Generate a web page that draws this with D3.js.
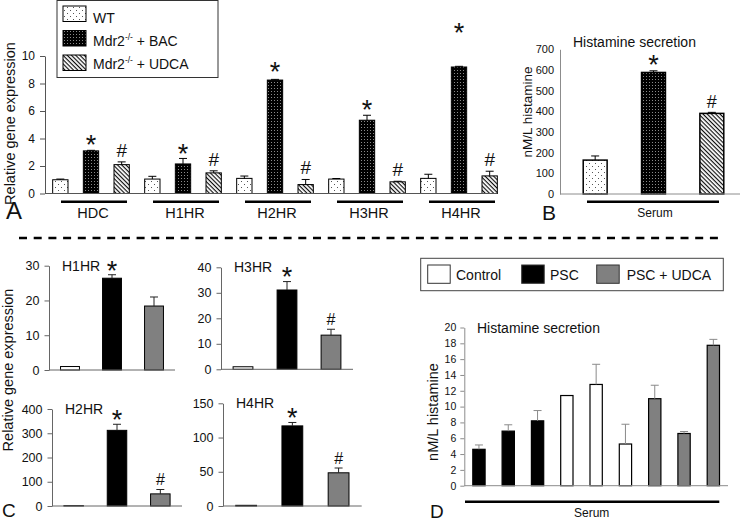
<!DOCTYPE html>
<html lang="en">
<head>
  <meta charset="UTF-8" />
  <title>Histamine receptors and secretion</title>
  <script src="https://cdn.jsdelivr.net/npm/d3@7"></script>
  <style>
    body {
      margin: 0;
      background-color: #fff;
    }

    svg {
      display: block;
      font-family: "Liberation Sans", Arial, sans-serif;
      fill: #111;
    }
  </style>
</head>
<body>
  <div id="chart"></div>

  <script>
    // Panel A - mouse gene expression
    const genesA = ["HDC", "H1HR", "H2HR", "H3HR", "H4HR"];
    const groupsA = ["WT", "BAC", "UDCA"];
    const wtA = [1.0, 1.05, 1.1, 1.05, 1.1];
    const wtErrA = [0.05, 0.2, 0.17, 0.04, 0.3];
    const bacA = [3.1, 2.15, 8.25, 5.33, 9.2];
    const bacErrA = [0.04, 0.4, 0.05, 0.36, 0.05];
    const udcaA = [2.1, 1.5, 0.65, 0.85, 1.28];
    const udcaErrA = [0.2, 0.15, 0.37, 0.04, 0.34];
    const ticksA = [0, 2, 4, 6, 8, 10];

    // Panel B - mouse serum histamine
    const groupsB = ["WT", "BAC", "UDCA"];
    const serumB = [164, 588, 390];
    const serumErrB = [20, 8, 5];
    const ticksB = [0, 100, 200, 300, 400, 500, 600, 700];

    // Panel C - human gene expression
    const genesC = ["H1HR", "H3HR", "H2HR", "H4HR"];
    const groupsC = ["Control", "PSC", "PSC + UDCA"];
    const controlC = [1.0, 1.0, 1.5, 1.0];
    const pscC = [26.4, 31.1, 312, 117];
    const pscErrC = [1.0, 3.3, 25, 5];
    const udcaC = [18.4, 13.4, 50, 48.5];
    const udcaErrC = [2.6, 2.3, 18, 7];
    const maxC = [30, 40, 400, 150];
    const stepC = [10, 10, 100, 50];
    const hashC = [false, true, true, true];

    // Panel D - human serum histamine
    const samplesD = ["1", "2", "3", "4", "5", "6", "7", "8", "9"];
    const groupD = ["PSC", "PSC", "PSC", "Control", "Control", "Control", "PSC + UDCA", "PSC + UDCA", "PSC + UDCA"];
    const serumD = [4.6, 6.9, 8.2, 11.4, 12.8, 5.27, 11.0, 6.6, 17.75];
    const serumErrD = [0.55, 0.8, 1.3, 0, 2.55, 2.5, 1.7, 0.25, 0.75];
    const ticksD = [0, 2, 4, 6, 8, 10, 12, 14, 16, 18, 20];

    const gray = "#808080";
    const starSize = 27;

    const svg = d3.select("#chart")
      .append("svg")
      .attr("width", 740)
      .attr("height", 521);

    // fill patterns
    const defs = svg.append("defs");

    const dotsWT = defs.append("pattern").attr("id", "dotsWT")
      .attr("patternUnits", "userSpaceOnUse").attr("width", 6).attr("height", 6);
    dotsWT.append("rect").attr("width", 6).attr("height", 6).attr("fill", "#fff");
    dotsWT.append("rect").attr("x", 1).attr("y", 1).attr("width", 1).attr("height", 1).attr("fill", "#555");
    dotsWT.append("rect").attr("x", 4).attr("y", 4).attr("width", 1).attr("height", 1).attr("fill", "#555");

    const dotsBAC = defs.append("pattern").attr("id", "dotsBAC")
      .attr("patternUnits", "userSpaceOnUse").attr("width", 3).attr("height", 3);
    dotsBAC.append("rect").attr("width", 3).attr("height", 3).attr("fill", "#000");
    dotsBAC.append("rect").attr("x", 1).attr("y", 1).attr("width", 1).attr("height", 1).attr("fill", "#8a8a8a");

    const hatch = defs.append("pattern").attr("id", "hatch")
      .attr("patternUnits", "userSpaceOnUse").attr("width", 3).attr("height", 3)
      .attr("patternTransform", "rotate(45)");
    hatch.append("rect").attr("width", 3).attr("height", 3).attr("fill", "#fff");
    hatch.append("line").attr("x1", 0).attr("y1", 0.6).attr("x2", 3).attr("y2", 0.6)
      .attr("stroke", "#000").attr("stroke-width", 1.1);

    const fillA = { WT: "url(#dotsWT)", BAC: "url(#dotsBAC)", UDCA: "url(#hatch)" };
    const fillC = { "Control": "#fff", "PSC": "#000", "PSC + UDCA": gray };

    function styleAxis(g, color, size) {
      g.select(".domain").attr("stroke", color);
      g.selectAll(".tick line").attr("stroke", color);
      g.selectAll(".tick text").attr("fill", "#111").style("font-size", size + "px")
        .style("font-family", '"Liberation Sans", Arial, sans-serif');
    }

    function errorBar(g, cx, yTop, yErr, color, cap) {
      if (yTop - yErr < 0.5) return;
      g.append("line").attr("x1", cx).attr("x2", cx).attr("y1", yTop).attr("y2", yErr)
        .attr("stroke", color).attr("stroke-width", 1);
      g.append("line").attr("x1", cx - cap / 2).attr("x2", cx + cap / 2).attr("y1", yErr).attr("y2", yErr)
        .attr("stroke", color).attr("stroke-width", 1);
    }

    // star drawn by its visual centre
    function star(g, cx, cy) {
      g.append("text").attr("x", cx).attr("y", cy + 0.57 * starSize).attr("text-anchor", "middle")
        .style("font-size", starSize + "px").text("*");
    }

    function hash(g, cx, baseY, size) {
      g.append("text").attr("x", cx).attr("y", baseY).attr("text-anchor", "middle")
        .style("font-size", size + "px").text("#");
    }

    // ---------------- Panel A ----------------
    const gA = svg.append("g");
    const xA = d3.scaleBand().domain(genesA).range([45, 505]);
    const subA = d3.scaleBand().domain(groupsA).range([0, xA.bandwidth()])
      .paddingInner(0.5).paddingOuter(0.25);
    const yA = d3.scaleLinear().domain([0, 10]).range([193.5, 56]);

    const rowsA = genesA.flatMap((gene, i) => [
      { gene, grp: "WT", v: wtA[i], e: wtErrA[i] },
      { gene, grp: "BAC", v: bacA[i], e: bacErrA[i] },
      { gene, grp: "UDCA", v: udcaA[i], e: udcaErrA[i] }
    ]);

    gA.selectAll("rect.bar")
      .data(rowsA)
      .enter()
      .append("rect")
      .attr("class", "bar")
      .attr("x", d => xA(d.gene) + subA(d.grp))
      .attr("y", d => yA(d.v))
      .attr("width", subA.bandwidth())
      .attr("height", d => yA(0) - yA(d.v))
      .attr("fill", d => fillA[d.grp])
      .attr("stroke", "#000")
      .attr("stroke-width", 1);

    rowsA.forEach(d => {
      const cx = xA(d.gene) + subA(d.grp) + subA.bandwidth() / 2;
      errorBar(gA, cx, yA(d.v), yA(d.v + d.e), "#000", 8);
    });

    // significance marks above BAC and UDCA bars
    const starGapA = [12, 11, 14, 12, 40];
    genesA.forEach((gene, i) => {
      const cb = xA(gene) + subA("BAC") + subA.bandwidth() / 2;
      star(gA, cb, yA(bacA[i] + bacErrA[i]) - starGapA[i]);
      const cu = xA(gene) + subA("UDCA") + subA.bandwidth() / 2;
      hash(gA, cu, yA(udcaA[i] + udcaErrA[i]) - 5, 19);
    });

    const axisA = gA.append("g")
      .attr("transform", "translate(45,0)")
      .call(d3.axisLeft(yA).tickValues(ticksA).tickSize(5).tickSizeOuter(0).tickPadding(5));
    styleAxis(axisA, "#555", 12);

    gA.append("line").attr("x1", 45).attr("x2", 497).attr("y1", yA(0)).attr("y2", yA(0))
      .attr("stroke", "#555");

    genesA.forEach(gene => {
      const c = xA(gene) + xA.bandwidth() / 2 + 3;
      gA.append("line").attr("x1", c - 33).attr("x2", c + 33).attr("y1", 201.7).attr("y2", 201.7)
        .attr("stroke", "#000").attr("stroke-width", 2.5);
      gA.append("text").attr("x", c - 1).attr("y", 218.3).attr("text-anchor", "middle")
        .style("font-size", "14.5px").text(gene);
    });

    gA.append("text")
      .attr("transform", "translate(14.5,123.5) rotate(-90)")
      .attr("text-anchor", "middle")
      .style("font-size", "14.5px")
      .text("Relative gene expression");

    gA.append("text").attr("x", 6).attr("y", 218.5).style("font-size", "24px").text("A");

    // legend A
    const legA = gA.append("g");
    legA.append("rect").attr("x", 57).attr("y", 0.5).attr("width", 161).attr("height", 77)
      .attr("fill", "#fff").attr("stroke", "#333").attr("stroke-width", 1);
    const legRowsA = [
      { grp: "WT", y: 6, base: 23.3 },
      { grp: "BAC", y: 30.5, base: 45.5 },
      { grp: "UDCA", y: 55, base: 68.5 }
    ];
    legRowsA.forEach(r => {
      legA.append("rect").attr("x", 63).attr("y", r.y).attr("width", 23).attr("height", 15.5)
        .attr("fill", fillA[r.grp]).attr("stroke", "#000");
      const t = legA.append("text").attr("x", 93).attr("y", r.base).style("font-size", "14px");
      if (r.grp === "WT") {
        t.text("WT");
      } else {
        t.append("tspan").text("Mdr2");
        t.append("tspan").attr("dy", -6).style("font-size", "8.5px").text("-/-");
        t.append("tspan").attr("dy", 6).text(" + " + r.grp);
      }
    });

    // ---------------- Panel B ----------------
    const gB = svg.append("g");
    const xB = d3.scaleBand().domain(groupsB).range([566, 741]).paddingInner(0.59).paddingOuter(0.295);
    const yB = d3.scaleLinear().domain([0, 700]).range([194, 49.3]);

    gB.selectAll("rect.bar")
      .data(groupsB)
      .enter()
      .append("rect")
      .attr("class", "bar")
      .attr("x", d => xB(d))
      .attr("y", (d, i) => yB(serumB[i]))
      .attr("width", xB.bandwidth())
      .attr("height", (d, i) => yB(0) - yB(serumB[i]))
      .attr("fill", d => fillA[d])
      .attr("stroke", "#000")
      .attr("stroke-width", 1.5);

    groupsB.forEach((d, i) => {
      const cx = xB(d) + xB.bandwidth() / 2;
      errorBar(gB, cx, yB(serumB[i]), yB(serumB[i] + serumErrB[i]), "#000", 8);
    });
    star(gB, xB("BAC") + xB.bandwidth() / 2, yB(serumB[1] + serumErrB[1]) - 12);
    hash(gB, xB("UDCA") + xB.bandwidth() / 2, yB(serumB[2] + serumErrB[2]) - 4, 18);

    const axisB = gB.append("g")
      .attr("transform", "translate(560,0)")
      .call(d3.axisLeft(yB).tickValues(ticksB).tickSize(0).tickSizeOuter(0).tickPadding(6));
    styleAxis(axisB, "#8c8c8c", 11);

    gB.append("line").attr("x1", 560).attr("x2", 740).attr("y1", yB(0)).attr("y2", yB(0))
      .attr("stroke", "#8c8c8c");

    gB.append("text").attr("x", 573).attr("y", 46.5).style("font-size", "14px").text("Histamine secretion");
    gB.append("text")
      .attr("transform", "translate(532,112) rotate(-90)")
      .attr("text-anchor", "middle")
      .style("font-size", "13.5px")
      .text("nM/L histamine");
    gB.append("line").attr("x1", 587).attr("x2", 719).attr("y1", 201.7).attr("y2", 201.7)
      .attr("stroke", "#000").attr("stroke-width", 2.5);
    gB.append("text").attr("x", 655).attr("y", 216.7).attr("text-anchor", "middle")
      .style("font-size", "12px").text("Serum");
    gB.append("text").attr("x", 542).attr("y", 220).style("font-size", "21px").text("B");

    // dashed separator
    svg.append("line").attr("x1", 19).attr("x2", 722).attr("y1", 238).attr("y2", 238)
      .attr("stroke", "#000").attr("stroke-width", 2.6).attr("stroke-dasharray", "8,6.7");

    // ---------------- Panel C ----------------
    const gC = svg.append("g");
    const framesC = [
      [49, 175, 370, 265.7],
      [221, 353, 369.3, 267.3],
      [52, 182, 506, 409],
      [223, 361.7, 506, 403.3]
    ];

    genesC.forEach((gene, i) => {
      const [x0, x1, y0, yTop] = framesC[i];
      const x = d3.scaleBand().domain(groupsC).range([x0, x1]).paddingInner(0.55).paddingOuter(0.275);
      const y = d3.scaleLinear().domain([0, maxC[i]]).range([y0, yTop]);
      const vals = [controlC[i], pscC[i], udcaC[i]];
      const errs = [0, pscErrC[i], udcaErrC[i]];
      const g = gC.append("g");

      g.selectAll("rect")
        .data(groupsC)
        .enter()
        .append("rect")
        .attr("x", d => x(d))
        .attr("y", (d, j) => y(vals[j]))
        .attr("width", x.bandwidth())
        .attr("height", (d, j) => y(0) - y(vals[j]))
        .attr("fill", d => fillC[d])
        .attr("stroke", "#000")
        .attr("stroke-width", 1);

      groupsC.forEach((d, j) => {
        errorBar(g, x(d) + x.bandwidth() / 2, y(vals[j]), y(vals[j] + errs[j]), "#222", 8);
      });

      star(g, x("PSC") + x.bandwidth() / 2, y(pscC[i] + pscErrC[i]) - 10.5);
      if (hashC[i]) hash(g, x("PSC + UDCA") + x.bandwidth() / 2, y(udcaC[i] + udcaErrC[i]) - 4.2, 16);

      const ax = g.append("g")
        .attr("transform", `translate(${x0},0)`)
        .call(d3.axisLeft(y).tickValues(d3.range(0, maxC[i] + 1, stepC[i]))
          .tickSize(4.5).tickSizeOuter(0).tickPadding(5));
      styleAxis(ax, "#666", 12.5);

      g.append("line").attr("x1", x0).attr("x2", x1).attr("y1", y0).attr("y2", y0).attr("stroke", "#666");
      g.append("text").attr("x", x0 + 13).attr("y", yTop + 5).style("font-size", "14px").text(gene);
    });

    gC.append("text")
      .attr("transform", "translate(13,370) rotate(-90)")
      .attr("text-anchor", "middle")
      .style("font-size", "14.5px")
      .text("Relative gene expression");
    gC.append("text").attr("x", 2).attr("y", 517).style("font-size", "19px").text("C");

    // ---------------- Panel D ----------------
    const gD = svg.append("g");
    const xD = d3.scaleBand().domain(samplesD).range([464.3, 728]).paddingInner(0.58).paddingOuter(0.29);
    const yD = d3.scaleLinear().domain([0, 20]).range([485.7, 327.5]);

    gD.selectAll("rect.bar")
      .data(samplesD)
      .enter()
      .append("rect")
      .attr("class", "bar")
      .attr("x", d => xD(d))
      .attr("y", (d, i) => yD(serumD[i]))
      .attr("width", xD.bandwidth())
      .attr("height", (d, i) => yD(0) - yD(serumD[i]))
      .attr("fill", (d, i) => fillC[groupD[i]])
      .attr("stroke", "#000")
      .attr("stroke-width", 1.2);

    samplesD.forEach((d, i) => {
      errorBar(gD, xD(d) + xD.bandwidth() / 2, yD(serumD[i]), yD(serumD[i] + serumErrD[i]), "#8a8a8a", 8);
    });

    const axisD = gD.append("g")
      .attr("transform", "translate(464.3,0)")
      .call(d3.axisLeft(yD).tickValues(ticksD).tickSize(4).tickSizeOuter(0).tickPadding(4));
    styleAxis(axisD, "#8c8c8c", 10.5);

    gD.append("line").attr("x1", 464.3).attr("x2", 728).attr("y1", yD(0)).attr("y2", yD(0))
      .attr("stroke", "#8c8c8c");

    gD.append("text").attr("x", 477).attr("y", 333).style("font-size", "14px").text("Histamine secretion");
    gD.append("text")
      .attr("transform", "translate(438,412) rotate(-90)")
      .attr("text-anchor", "middle")
      .style("font-size", "14.5px")
      .text("nM/L histamine");
    gD.append("line").attr("x1", 465).attr("x2", 719.3).attr("y1", 501.7).attr("y2", 501.7)
      .attr("stroke", "#000").attr("stroke-width", 2.5);
    gD.append("text").attr("x", 591.7).attr("y", 516.7).attr("text-anchor", "middle")
      .style("font-size", "12px").text("Serum");
    gD.append("text").attr("x", 430).attr("y", 518).style("font-size", "19px").text("D");

    // legend D
    const legD = gD.append("g");
    legD.append("rect").attr("x", 420.7).attr("y", 258.3).attr("width", 302.6).attr("height", 32.4)
      .attr("fill", "#fff").attr("stroke", "#444").attr("stroke-width", 1);
    const legRowsD = [
      { grp: "Control", x: 427.7, tx: 456 },
      { grp: "PSC", x: 521.7, tx: 550 },
      { grp: "PSC + UDCA", x: 596.7, tx: 626.7 }
    ];
    legRowsD.forEach(r => {
      legD.append("rect").attr("x", r.x).attr("y", 265).attr("width", 22.5).attr("height", 18.3)
        .attr("fill", fillC[r.grp]).attr("stroke", "#333");
      legD.append("text").attr("x", r.tx).attr("y", 280).style("font-size", "14px").text(r.grp);
    });
  </script>
</body>
</html>
